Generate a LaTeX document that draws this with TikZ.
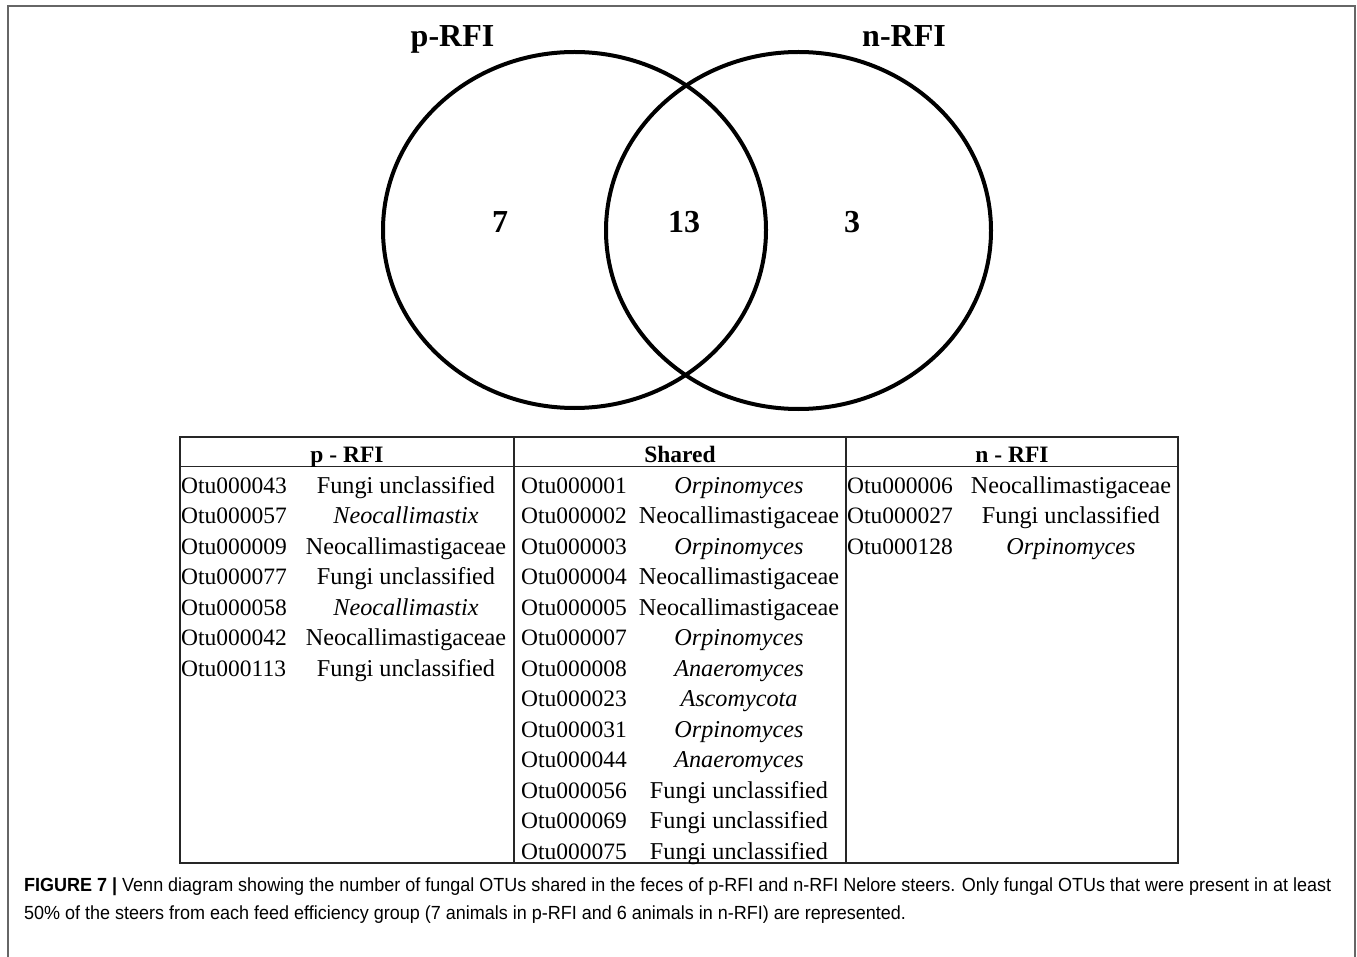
\documentclass[tikz,border=0pt]{standalone}
\usepackage{fontspec}
\setmainfont{Liberation Serif}
\newfontfamily\capfont{Liberation Sans}
\tikzset{
  frame/.style={draw=black!60, line width=1.6pt},
  venn/.style={draw=black, line width=4pt},
  grid/.style={draw=black!85, line width=1.6pt},
  title/.style={font=\fontsize{32}{36}\selectfont\bfseries, anchor=base, inner sep=0pt},
  count/.style={font=\fontsize{32}{36}\selectfont\bfseries, anchor=base, inner sep=0pt},
  head/.style={font=\fontsize{23.5}{28}\selectfont\bfseries, anchor=base, inner sep=0pt},
  otu/.style={font=\fontsize{23.5}{28}\selectfont, anchor=base west, inner sep=0pt},
  taxon/.style={font=\fontsize{24.2}{28}\selectfont, anchor=base, inner sep=0pt},
  captext/.style={anchor=base west, inner sep=0pt, text=black!85}
}
\newsavebox\capboxA
\newsavebox\capboxB
\newdimen\capw
\begin{document}
\sbox\capboxA{\capfont\fontsize{19}{23}\selectfont\textbf{FIGURE 7 |} Venn diagram showing the number of fungal OTUs shared in the feces of p-RFI and n-RFI Nelore steers. Only fungal OTUs that were present in at least}%
\sbox\capboxB{\capfont\fontsize{19}{23}\selectfont 50\% of the steers from each feed efficiency group (7 animals in p-RFI and 6 animals in n-RFI) are represented.}%
\capw=\wd\capboxA
\pgfmathsetmacro\capsc{1307/\capw}%
\begin{tikzpicture}[x=1pt,y=-1pt]
\useasboundingbox (0,0) rectangle (1357,957);
% outer frame
\draw[frame] (8,962) -- (8,6) -- (1355,6) -- (1355,962);
% Venn
\draw[venn] (574.5,230) ellipse [x radius=191.5pt, y radius=178pt];
\draw[venn] (798.5,230.5) ellipse [x radius=192.5pt, y radius=178.5pt];
\node[title] (tp) at (452.5,47) {p-RFI};
\node[title] (tn) at (904,47) {n-RFI};
\node[count] (c7) at (500,233) {7};
\node[count] (c13) at (684,233) {13};
\node[count] (c3) at (852,233) {3};
% table
\draw[grid] (180,437) rectangle (1178,863);
\draw[grid] (180,466.5) -- (1178,466.5);
\draw[grid] (514,437) -- (514,863);
\draw[grid] (846,437) -- (846,863);
\node[head] (hp) at (347,462) {p - RFI};
\node[head] (hs) at (680,462) {Shared};
\node[head] (hn) at (1012,462) {n - RFI};
\foreach \id/\tx [count=\i from 0] in {
  Otu000043/Fungi unclassified,
  Otu000057/\textit{Neocallimastix},
  Otu000009/Neocallimastigaceae,
  Otu000077/Fungi unclassified,
  Otu000058/\textit{Neocallimastix},
  Otu000042/Neocallimastigaceae,
  Otu000113/Fungi unclassified}{
  \node[otu] (pid\i) at (181,{493+30.5*\i}) {\id};
  \node[taxon] (ptx\i) at (406,{493+30.5*\i}) {\tx};
}
\foreach \id/\tx [count=\i from 0] in {
  Otu000001/\textit{Orpinomyces},
  Otu000002/Neocallimastigaceae,
  Otu000003/\textit{Orpinomyces},
  Otu000004/Neocallimastigaceae,
  Otu000005/Neocallimastigaceae,
  Otu000007/\textit{Orpinomyces},
  Otu000008/\textit{Anaeromyces},
  Otu000023/\textit{Ascomycota},
  Otu000031/\textit{Orpinomyces},
  Otu000044/\textit{Anaeromyces},
  Otu000056/Fungi unclassified,
  Otu000069/Fungi unclassified,
  Otu000075/Fungi unclassified}{
  \node[otu] (sid\i) at (521,{493+30.5*\i}) {\id};
  \node[taxon] (stx\i) at (739,{493+30.5*\i}) {\tx};
}
\foreach \id/\tx [count=\i from 0] in {
  Otu000006/Neocallimastigaceae,
  Otu000027/Fungi unclassified,
  Otu000128/\textit{Orpinomyces}}{
  \node[otu] (nid\i) at (847,{493+30.5*\i}) {\id};
  \node[taxon] (ntx\i) at (1071,{493+30.5*\i}) {\tx};
}
% caption
\node[captext] (cap1) at (24,891.5) {\scalebox{\capsc}[1]{\usebox\capboxA}};
\node[captext] (cap2) at (24,919.5) {\scalebox{\capsc}[1]{\usebox\capboxB}};
\end{tikzpicture}
\end{document}
